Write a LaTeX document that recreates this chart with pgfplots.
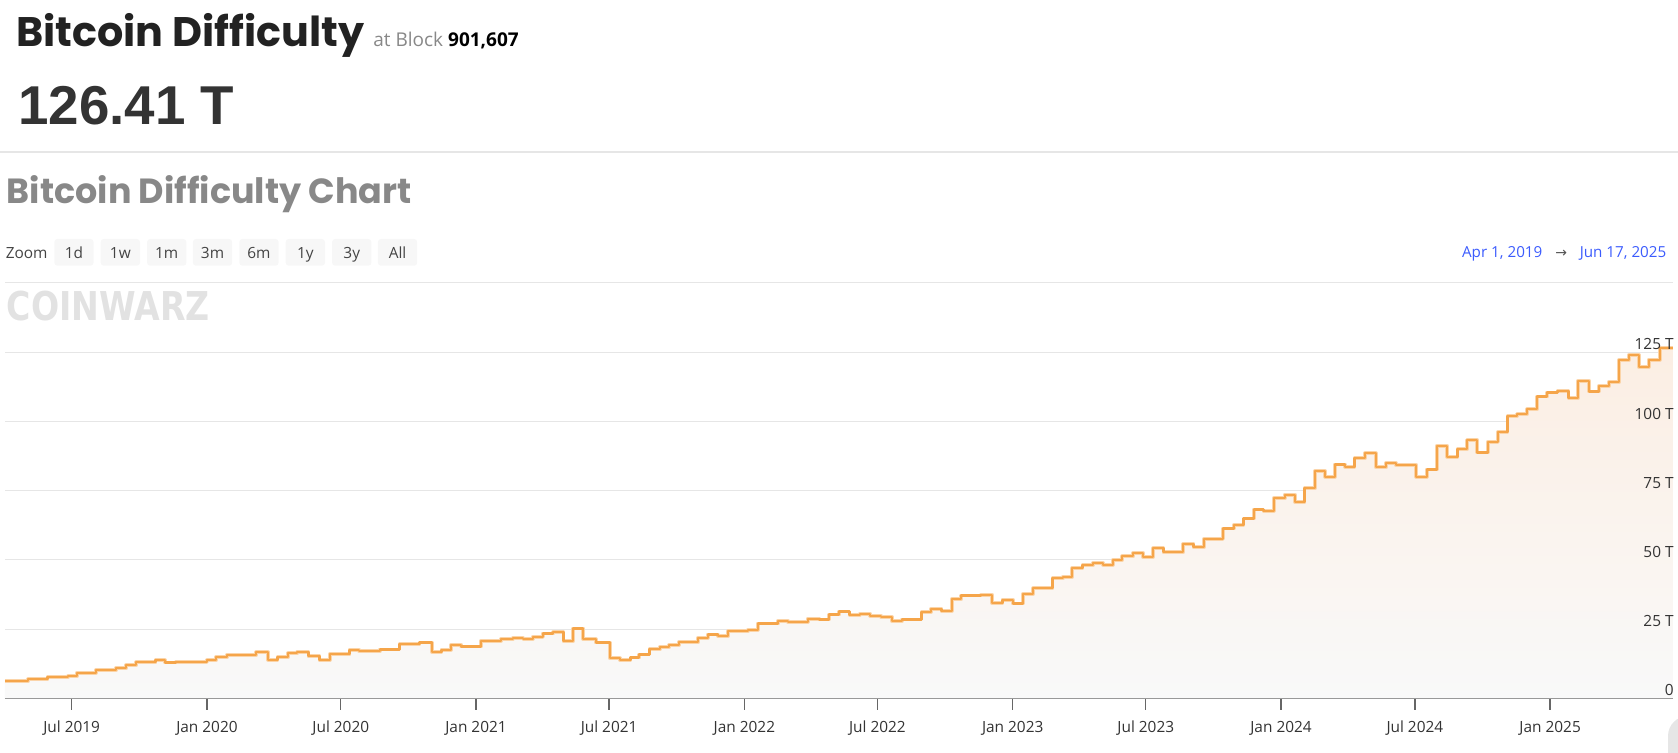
\documentclass[border=0pt]{standalone}
\usepackage{pgfplots}
\pgfplotsset{compat=1.18}
\usepackage{pgfplotstable}
\usepackage{fontspec}
\setmainfont{Open Sans}
\newfontfamily\headfont{Poppins}
\newfontfamily\numfont{Liberation Sans}
\newfontfamily\symfont{DejaVu Sans}

\definecolor{titlecol}{HTML}{222222}
\definecolor{bigcol}{HTML}{333333}
\definecolor{headgray}{HTML}{888888}
\definecolor{atgray}{HTML}{888888}
\definecolor{bluecol}{HTML}{3B5BFD}
\definecolor{arrowgray}{HTML}{555555}
\definecolor{btnfill}{HTML}{F7F7F7}
\definecolor{uitext}{HTML}{444444}
\definecolor{sepcol}{HTML}{E6E6E6}
\definecolor{wmcol}{HTML}{E2E2E2}
\definecolor{gridcol}{HTML}{E6E6E6}
\definecolor{axiscol}{HTML}{666666}
\definecolor{labcol}{HTML}{333333}
\definecolor{linecol}{HTML}{F5A54A}
\definecolor{halocol}{HTML}{FBD4A8}
\definecolor{filltop}{HTML}{FBEEE3}
\definecolor{fillbot}{HTML}{F9F9F9}

% day = days since 2019-01-01, val = difficulty in T
\pgfplotstableread{
day val
90 6.4
122 6.95
148 7.7
176 8.0
188 9.3
214 10.2
241 10.9
255 12.0
269 13.1
295 13.8
308 13.0
323 13.2
365 13.8
377 14.9
392 15.7
432 16.7
448 14.0
461 14.9
475 16.3
488 16.7
503 15.3
518 13.9
532 16.0
559 17.6
572 17.1
600 17.7
627 19.7
654 20.2
671 16.8
684 17.6
697 19.4
711 18.8
738 20.9
765 21.5
781 21.8
795 21.5
808 22.2
822 23.5
836 23.9
850 20.7
863 25.3
877 21.4
894 20.2
913 14.5
927 13.9
941 14.8
953 15.9
967 17.9
981 18.6
994 19.3
1007 20.3
1033 21.9
1046 23.1
1060 22.6
1074 24.3
1101 24.8
1114 27.1
1142 28.1
1155 27.7
1182 28.8
1198 28.5
1211 30.3
1225 31.4
1239 30.2
1253 30.6
1267 29.9
1282 29.4
1297 27.9
1310 28.5
1337 31.2
1350 32.4
1364 31.6
1378 35.8
1391 37.2
1418 37.4
1433 34.5
1447 35.7
1461 34.3
1475 37.8
1489 39.8
1515 43.4
1529 43.9
1542 47.1
1556 48.1
1570 48.9
1584 48.3
1597 50.0
1610 51.3
1625 52.6
1638 51.1
1652 54.2
1666 52.8
1693 55.8
1707 54.6
1721 57.6
1747 61.4
1762 62.7
1775 65.0
1789 68.2
1802 67.8
1816 72.3
1831 73.6
1845 70.9
1858 75.9
1872 82.1
1886 80.1
1899 84.5
1913 83.7
1926 86.8
1940 88.5
1955 83.5
1969 85.0
1982 84.3
2010 80.1
2024 82.7
2038 91.2
2052 87.3
2066 90.0
2079 93.3
2093 88.8
2107 92.6
2121 96.2
2134 102.0
2147 102.7
2161 104.4
2174 109.0
2188 110.5
2202 110.9
2217 108.5
2230 114.7
2245 110.8
2258 112.7
2272 114.3
2286 122.2
2299 124.0
2313 119.6
2326 122.3
2341 126.4
2359 126.4
}\difftable

\begin{document}
\begin{tikzpicture}
\path[use as bounding box] (0pt,0pt) rectangle (839pt,-376.5pt);
\begin{scope}[x=0.5pt,y=-0.5pt]
% header
\node[anchor=base west, inner sep=0, text=titlecol] at (16,47)
  {\resizebox{174pt}{!}{\fontsize{20pt}{24pt}\selectfont\headfont\bfseries Bitcoin Difficulty}};
\node[anchor=base west, inner sep=0, text=atgray] at (373,47)
  {\fontsize{9.5pt}{11pt}\selectfont at Block \textcolor{black}{\bfseries 901,607}};
\node[anchor=base west, inner sep=0, text=bigcol] at (18,125)
  {\resizebox{108pt}{!}{\fontsize{28pt}{32pt}\selectfont\numfont\bfseries 126.41 T}};
\draw[sepcol, line width=1pt] (0,152) -- (1678,152);
% chart heading
\node[anchor=base west, inner sep=0, text=headgray] at (6.4,204)
  {\resizebox{202.5pt}{!}{\fontsize{18pt}{22pt}\selectfont\headfont\bfseries Bitcoin Difficulty Chart}};
% zoom row
\node[anchor=base west, inner sep=0, text=uitext] at (5.4,258.3)
  {\fontsize{7.7pt}{9pt}\selectfont Zoom};
\foreach \xl/\lab in {54.3/1d,100.7/1w,147.1/1m,192.9/3m,239.3/6m,285.7/1y,332.1/3y,377.9/All}{
  \fill[btnfill, rounded corners=1.5pt] (\xl,239) rectangle ++(39.3,26.7);
  \node[anchor=base, inner sep=0, text=uitext] at (\xl+19.65,258.3)
    {\fontsize{7.7pt}{9pt}\selectfont \lab};
}
% date range
\node[anchor=base west, inner sep=0, text=bluecol] at (1461.7,257.3)
  {\fontsize{7.6pt}{9pt}\selectfont Apr 1, 2019};
\node[anchor=base west, inner sep=0, text=arrowgray] at (1555,257.3)
  {\fontsize{7pt}{9pt}\selectfont\symfont →};
\node[anchor=base east, inner sep=0, text=bluecol] at (1666.7,257.3)
  {\fontsize{7.6pt}{9pt}\selectfont Jun 17, 2025};
% watermark
\node[anchor=north west, inner sep=0, text=wmcol] at (6.4,291)
  {\resizebox{101.5pt}{14.75pt}{\symfont\bfseries COINWARZ}};
% scrollbar remnant
\fill[sepcol, rounded corners=10pt] (1668,716) rectangle (1700,790);
\end{scope}

\begin{axis}[
  at={(2.4pt,-349.25pt)}, anchor=south west,
  scale only axis, width=834.05pt, height=207.75pt,
  xmin=90, xmax=2359, ymin=0, ymax=150,
  axis x line*=bottom, axis y line*=left,
  x axis line style={draw=axiscol, line width=0.7pt, -},
  y axis line style={draw=none},
  xtick={181,365,547,731,912,1096,1277,1461,1642,1826,2008,2192},
  xticklabels={Jul 2019,Jan 2020,Jul 2020,Jan 2021,Jul 2021,Jan 2022,Jul 2022,Jan 2023,Jul 2023,Jan 2024,Jul 2024,Jan 2025},
  tick align=outside, major tick length=5.5pt,
  xtick style={draw=axiscol, line width=0.7pt},
  x tick label style={font=\fontsize{7.7pt}{9pt}\selectfont, text=labcol, anchor=base, inner sep=0pt, yshift=-11.6pt},
  ytick={0,25,50,75,100,125,150}, yticklabels={},
  ytick style={draw=none},
  ymajorgrids, grid style={draw=gridcol, line width=0.5pt},
  clip=false,
]
\addplot[const plot, draw=none, top color=filltop, bottom color=fillbot]
  table[x=day, y=val] {\difftable} \closedcycle;
\addplot[const plot, color=halocol, line width=1.9pt, line join=round]
  table[x=day, y=val] {\difftable};
\addplot[const plot, color=linecol, line width=1.1pt, line join=round]
  table[x=day, y=val] {\difftable};
\end{axis}

\begin{scope}[x=0.5pt,y=-0.5pt]
\foreach \lab/\yy in {125 T/349.4,100 T/419.3,75 T/488.4,50 T/557.6,25 T/626.6,0/696}{
  \node[anchor=base east, inner sep=0, text=labcol] at (1674,\yy)
    {\fontsize{7.7pt}{9pt}\selectfont \lab};
}
\end{scope}
\end{tikzpicture}
\end{document}
